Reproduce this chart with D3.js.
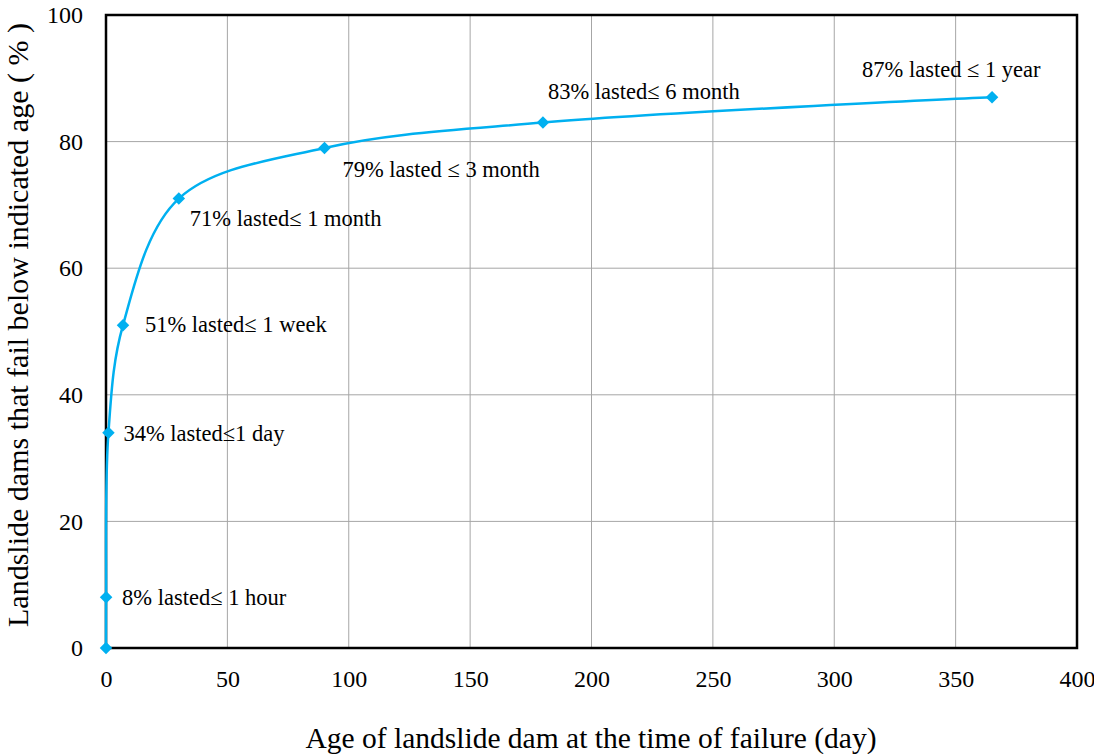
<!DOCTYPE html>
<html>
<head>
<meta charset="utf-8">
<script src="https://cdn.jsdelivr.net/npm/d3@7"></script>
<style>
  body { margin: 0; background: #fff; }
  text { font-family: "Liberation Serif", "Times New Roman", serif; }
</style>
</head>
<body>
<svg id="chart" width="1094" height="754"></svg>
<script>
// age at failure (days) and cumulative share failed (%)
const AGES = [0, 1 / 24, 1, 7, 30, 90, 180, 365];
const PERCENTS = [0, 8, 34, 51, 71, 79, 83, 87];
const LABELS = ["", "8% lasted\u2264 1 hour", "34% lasted\u22641  day", "51% lasted\u2264 1 week",
  "71% lasted\u2264 1 month", "79% lasted \u2264 3 month", "83% lasted\u2264 6 month", "87% lasted \u2264 1 year"];
const X_TICKS = [0, 50, 100, 150, 200, 250, 300, 350, 400];
const Y_TICKS = [0, 20, 40, 60, 80, 100];

// label offsets from their point (px)
const LABEL_DX = [0, 16, 15, 22, 11, 18, 5, -130];
const LABEL_DY = [0, 8, 8, 7, 27, 29, -24, -20];

const margin = {left: 106, right: 17, top: 15, bottom: 106};
const W = 1094, H = 754;
const svg = d3.select("#chart");

const x = d3.scaleLinear().domain([0, 400]).range([margin.left, W - margin.right]);
const y = d3.scaleLinear().domain([0, 100]).range([H - margin.bottom, margin.top]);

// grid
svg.append("g").selectAll("line.vx")
  .data(X_TICKS.slice(1, -1))
  .enter().append("line")
  .attr("x1", d => x(d)).attr("x2", d => x(d))
  .attr("y1", y(0)).attr("y2", y(100))
  .attr("stroke", "#a6a6a6").attr("stroke-width", 1);

svg.append("g").selectAll("line.hy")
  .data(Y_TICKS.slice(1, -1))
  .enter().append("line")
  .attr("x1", x(0)).attr("x2", x(400))
  .attr("y1", d => y(d)).attr("y2", d => y(d))
  .attr("stroke", "#a6a6a6").attr("stroke-width", 1);

// frame
svg.append("rect")
  .attr("x", x(0)).attr("y", y(100))
  .attr("width", x(400) - x(0)).attr("height", y(0) - y(100))
  .attr("fill", "none").attr("stroke", "#000").attr("stroke-width", 2.5);

// axes (labels only)
let xAxis = svg.append("g")
  .attr("transform", `translate(0,${y(0)})`)
  .call(d3.axisBottom(x).tickValues(X_TICKS).tickSize(0).tickPadding(22));
xAxis.select(".domain").remove();
xAxis.selectAll("text").attr("font-size", "24px").attr("fill", "#000")
  .style("font-family", "Liberation Serif");

let yAxis = svg.append("g")
  .attr("transform", `translate(${x(0)},0)`)
  .call(d3.axisLeft(y).tickValues(Y_TICKS).tickSize(0).tickPadding(23));
yAxis.select(".domain").remove();
yAxis.selectAll("text").attr("font-size", "24px").attr("fill", "#000")
  .style("font-family", "Liberation Serif");

// curve
const pts = AGES.map((a, i) => ({age: a, pct: PERCENTS[i], label: LABELS[i], dx: LABEL_DX[i], dy: LABEL_DY[i]}));

const line = d3.line()
  .x(d => x(d.age))
  .y(d => y(d.pct))
  .curve(d3.curveCatmullRom.alpha(0.5));

svg.append("path")
  .datum(pts)
  .attr("d", line)
  .attr("fill", "none")
  .attr("stroke", "#00b0f0")
  .attr("stroke-width", 2.5);

svg.append("g").selectAll("path.m")
  .data(pts)
  .enter().append("path")
  .attr("d", d3.symbol(d3.symbolDiamond2, 100))
  .attr("transform", d => `translate(${x(d.age)},${y(d.pct)})`)
  .attr("fill", "#00b0f0");

svg.append("g").selectAll("text.lbl")
  .data(pts.filter(d => d.label))
  .enter().append("text")
  .attr("x", d => x(d.age) + d.dx)
  .attr("y", d => y(d.pct) + d.dy)
  .attr("font-size", "22.5px")
  .attr("fill", "#000")
  .text(d => d.label);

// axis titles
svg.append("text")
  .attr("x", 591).attr("y", 748)
  .attr("text-anchor", "middle")
  .attr("font-size", "29.5px")
  .text("Age of landslide dam at the time of failure (day)");

svg.append("text")
  .attr("transform", "translate(28,325) rotate(-90)")
  .attr("text-anchor", "middle")
  .attr("font-size", "30px")
  .text("Landslide dams that fail below indicated age ( % )");
</script>
</body>
</html>
